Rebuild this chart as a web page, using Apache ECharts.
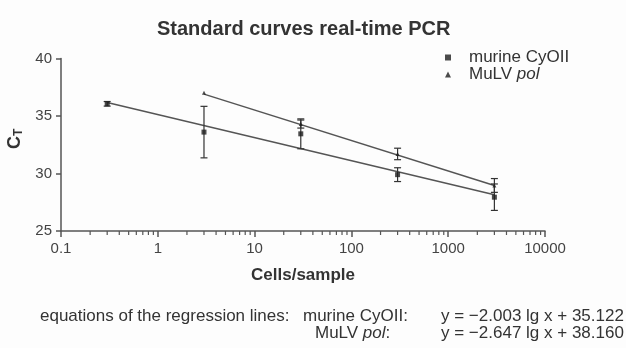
<!DOCTYPE html>
<html>
<head>
<meta charset="utf-8">
<script src="https://cdn.jsdelivr.net/npm/echarts@6/dist/echarts.min.js"></script>
<style>
html,body{margin:0;padding:0;background:#fdfdfd;}
#chart{width:626px;height:348px;}
</style>
</head>
<body>
<div id="chart"></div>
<script>
// ---- data ----
const titleText = 'Standard curves real-time PCR';
const xAxisName = 'Cells/sample';
const seriesNames = ['murine CyOII', 'MuLV pol'];

const cellsCyOII = [0.3, 3, 30, 300, 3000];
const ctCyOII    = [36.06, 33.6, 33.45, 29.9, 27.94];
const errCyOII   = [0.2, 2.24, 1.3, 0.6, 1.15];

const cellsPol = [3, 30, 300, 3000];
const ctPol    = [37.02, 34.3, 31.7, 28.96];
const errPol   = [0, 0.35, 0.5, 0.6];

// regression line end points
const lineCyOIIx = [0.3, 3000];
const lineCyOIIy = [36.17, 28.16];
const linePolx   = [3, 3000];
const linePoly   = [36.90, 28.96];

const yTicks = [25, 30, 35, 40];
const xDecades = [0.1, 1, 10, 100, 1000, 10000];

const eqIntro = 'equations of the regression lines:';
const eqNames = ['murine CyOII:', 'MuLV {i|pol}:'];
const eqTexts = ['y = \u22122.003 lg x + 35.122', 'y = \u22122.647 lg x + 38.160'];

// ---- build ----
const FONT = '"Liberation Sans", Arial, sans-serif';
const AX = '#555';
const TXT = '#333';

function zip(a, b) { return a.map((v, i) => [v, b[i]]); }
function errData(x, y, e) { return x.map((v, i) => [v, y[i] - e[i], y[i] + e[i]]).filter(d => d[2] > d[1]); }

// minor tick positions on the log axis (2..9 within each decade)
const minorTicks = [];
for (let d = 0; d < xDecades.length - 1; d++) {
  for (let k = 2; k <= 9; k++) minorTicks.push([+(xDecades[d] * k).toPrecision(3)]);
}

function errRender(params, api) {
  const x = api.value(0), lo = api.value(1), hi = api.value(2);
  const p1 = api.coord([x, lo]), p2 = api.coord([x, hi]);
  const cw = 3.5;
  const style = { stroke: '#333', lineWidth: 1.2 };
  return {
    type: 'group',
    children: [
      { type: 'line', shape: { x1: p1[0], y1: p1[1], x2: p2[0], y2: p2[1] }, style },
      { type: 'line', shape: { x1: p1[0] - cw, y1: p1[1], x2: p1[0] + cw, y2: p1[1] }, style },
      { type: 'line', shape: { x1: p2[0] - cw, y1: p2[1], x2: p2[0] + cw, y2: p2[1] }, style }
    ]
  };
}

function minorRender(params, api) {
  const p = api.coord([api.value(0), yTicks[0]]);
  return { type: 'line', shape: { x1: p[0], y1: p[1], x2: p[0], y2: p[1] + 4 }, style: { stroke: AX, lineWidth: 1.2 } };
}

const chart = echarts.init(document.getElementById('chart'), null, { renderer: 'canvas' });
chart.setOption({
  backgroundColor: '#fdfdfd',
  animation: false,
  title: {
    text: titleText, left: 152, top: 14,
    textStyle: { fontFamily: FONT, fontSize: 20, fontWeight: 'bold', color: TXT }
  },
  legend: {
    orient: 'vertical', left: 440, top: 44, itemGap: 0,
    itemWidth: 6, itemHeight: 6,
    data: seriesNames,
    formatter: n => n === 'MuLV pol' ? 'MuLV {i|pol}' : n,
    textStyle: {
      fontFamily: FONT, fontSize: 17, color: TXT, lineHeight: 17, padding: [0, 0, 0, 13],
      rich: { i: { fontStyle: 'italic', fontFamily: FONT, fontSize: 17, color: TXT } }
    }
  },
  grid: { left: 61, right: 81, top: 58.5, bottom: 117, containLabel: false, outerBoundsMode: 'none' },
  xAxis: {
    type: 'log', logBase: 10, min: 0.1, max: 10000,
    name: xAxisName, nameLocation: 'middle', nameGap: 36,
    nameTextStyle: { fontFamily: FONT, fontSize: 17, fontWeight: 'bold', color: TXT },
    axisLine: { lineStyle: { color: AX, width: 1.5 } },
    axisTick: { show: true, length: 6, lineStyle: { color: AX, width: 1.5 } },
    axisLabel: { fontFamily: FONT, fontSize: 15, color: '#444', margin: 10,
      formatter: v => String(+v.toPrecision(3)) },
    splitLine: { show: false }
  },
  yAxis: {
    type: 'value', min: 25, max: 40, interval: 5,
    name: '{a|C}{b|T}', nameLocation: 'middle', nameGap: 34, nameRotate: 90,
    nameTextStyle: {
      padding: [0, 0, 0, 12],
      rich: {
        a: { fontFamily: FONT, fontSize: 18, fontWeight: 'bold', color: TXT },
        b: { fontFamily: FONT, fontSize: 12, fontWeight: 'bold', color: TXT, padding: [7, 0, 0, 0] }
      }
    },
    axisLine: { show: true, lineStyle: { color: AX, width: 1.5 } },
    axisTick: { show: true, length: 5, lineStyle: { color: AX, width: 1.5 } },
    axisLabel: { fontFamily: FONT, fontSize: 15, color: '#444', margin: 9 },
    splitLine: { show: false }
  },
  series: [
    { type: 'custom', name: 'minor', renderItem: minorRender, data: minorTicks, clip: false, silent: true, z: 1 },
    { type: 'line', name: 'regCyOII', data: zip(lineCyOIIx, lineCyOIIy), symbol: 'none',
      lineStyle: { color: '#555', width: 1.5 }, silent: true, z: 2 },
    { type: 'line', name: 'regPol', data: zip(linePolx, linePoly), symbol: 'none',
      lineStyle: { color: '#555', width: 1.5 }, silent: true, z: 2 },
    { type: 'custom', name: 'errCyOII', renderItem: errRender, data: errData(cellsCyOII, ctCyOII, errCyOII), z: 3 },
    { type: 'custom', name: 'errPol', renderItem: errRender, data: errData(cellsPol, ctPol, errPol), z: 3 },
    { type: 'scatter', name: seriesNames[0], data: zip(cellsCyOII, ctCyOII), symbol: 'rect', symbolSize: 5,
      itemStyle: { color: '#1e1e1e' }, z: 4 },
    { type: 'scatter', name: seriesNames[1], data: zip(cellsPol, ctPol), symbol: 'triangle', symbolSize: 4,
      itemStyle: { color: '#1e1e1e' }, z: 4 }
  ],
  graphic: [
    { type: 'text', left: 40, top: 308, style: { text: eqIntro, font: '17px ' + FONT, fill: TXT } },
    { type: 'text', left: 303, top: 308, style: { text: eqNames[0], font: '17px ' + FONT, fill: TXT } },
    { type: 'text', left: 315, top: 325, style: { text: eqNames[1], font: '17px ' + FONT, fill: TXT,
      rich: { i: { fontStyle: 'italic', fontSize: 17, fontFamily: FONT, fill: TXT } } } },
    { type: 'text', left: 441, top: 308, style: { text: eqTexts[0], font: '17px ' + FONT, fill: TXT } },
    { type: 'text', left: 441, top: 325, style: { text: eqTexts[1], font: '17px ' + FONT, fill: TXT } }
  ]
});
</script>
</body>
</html>
